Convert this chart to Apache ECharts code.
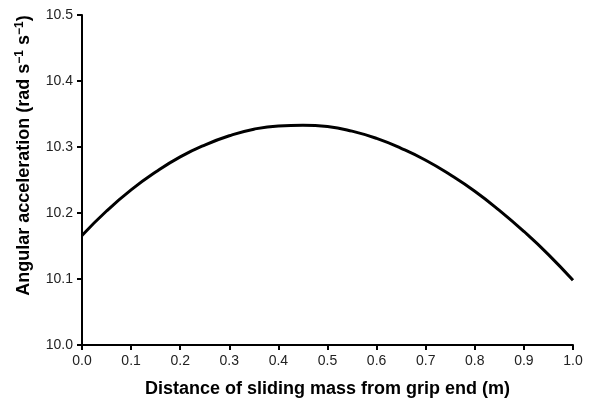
<!DOCTYPE html>
<html>
<head>
<meta charset="utf-8">
<script src="https://cdn.jsdelivr.net/npm/echarts@6/dist/echarts.min.js"></script>
<style>html,body{margin:0;padding:0;background:#fff;}#c{width:590px;height:398px;}</style>
</head>
<body>
<div id="c"></div>
<script>
var distance = [0.00,0.05,0.10,0.15,0.20,0.25,0.30,0.35,0.40,0.45,0.50,0.55,0.60,0.65,0.70,0.75,0.80,0.85,0.90,0.95,1.00];
var acceleration = [10.166,10.203,10.235,10.262,10.285,10.303,10.317,10.327,10.332,10.333,10.331,10.324,10.313,10.298,10.280,10.258,10.233,10.204,10.172,10.137,10.098];
var xTicks = {min:0, max:1, step:0.1};
var yTicks = {min:10.0, max:10.5, step:0.1};

var chart = echarts.init(document.getElementById('c'), null, {renderer:'canvas'});
var font = 'Arial, "Liberation Sans", Helvetica, sans-serif';
var pts = distance.map(function(d,i){return [d, acceleration[i]];});
chart.setOption({
  animation:false,
  backgroundColor:'#fff',
  grid:{left:82, right:17, top:15, bottom:53, containLabel:false, outerBoundsMode:'none'},
  xAxis:{
    type:'value', min:xTicks.min, max:xTicks.max, interval:xTicks.step,
    name:'Distance of sliding mass from grip end (m)',
    nameLocation:'middle', nameGap:35,
    nameTextStyle:{fontFamily:font, fontWeight:'bold', fontSize:18, color:'#000'},
    axisLine:{show:true, onZero:false, lineStyle:{color:'#000', width:2}},
    axisTick:{show:true, length:5, lineStyle:{color:'#000', width:2}},
    axisLabel:{fontFamily:font, fontSize:14, color:'#222', margin:9,
      formatter:function(v){return v.toFixed(1);}},
    splitLine:{show:false}
  },
  yAxis:{
    type:'value', min:yTicks.min, max:yTicks.max, interval:yTicks.step,
    name:'{b|Angular acceleration (rad s}{s|−1}{b| s}{s|−1}{b|)}',
    nameLocation:'middle', nameGap:48,
    nameTextStyle:{fontFamily:font, fontWeight:'bold', fontSize:18, color:'#000', padding:[0,0,0,49],
      rich:{
        b:{fontFamily:font, fontWeight:'bold', fontSize:18, color:'#000', lineHeight:20},
        s:{fontFamily:font, fontWeight:'bold', fontSize:12, color:'#000', lineHeight:20, verticalAlign:'top', padding:[0,0,7,0]}
      }},
    axisLine:{show:true, onZero:false, lineStyle:{color:'#000', width:2}},
    axisTick:{show:true, length:5, lineStyle:{color:'#000', width:2}},
    axisLabel:{fontFamily:font, fontSize:14, color:'#222', margin:9,
      formatter:function(v){return v.toFixed(1);}},
    splitLine:{show:false}
  },
  series:[{
    type:'line', data:pts, smooth:true, showSymbol:false,
    lineStyle:{color:'#000', width:3}
  }]
});
</script>
</body>
</html>
